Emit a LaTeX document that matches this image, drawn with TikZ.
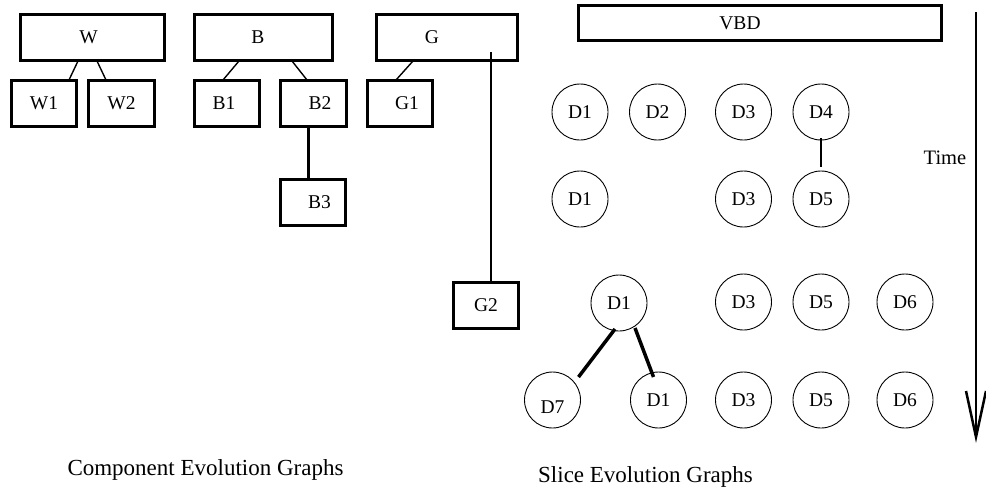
\documentclass[tikz,border=0pt]{standalone}
\usepackage{fontspec}
\setmainfont{Liberation Serif}
\usetikzlibrary{calc}
\begin{document}
\begin{tikzpicture}[x=1pt,y=-1pt,
  lbl/.style={font=\fontsize{19.5}{22}\selectfont},
  cbox/.style={draw, line width=3pt, inner sep=0pt, minimum height=46pt, lbl},
  smallbox/.style={cbox, minimum width=65pt},
  dnode/.style={draw, circle, line width=0.9pt, inner sep=0pt, minimum size=56pt, lbl},
  thinline/.style={line width=1.4pt},
  heavyline/.style={line width=3pt},
  captxt/.style={font=\fontsize{23}{26}\selectfont}
]
\useasboundingbox (0,0) rectangle (986,490);
% component evolution graphs
\node[cbox, minimum width=144pt] (W) at (92.5,37.5) {W\hspace*{8pt}};
\node[smallbox] (W1) at (44,103.5) {W1};
\node[smallbox, minimum width=66pt] (W2) at (121.5,103.5) {W2};
\node[cbox, minimum width=138pt] (B) at (263.5,37.5) {B\hspace*{11pt}};
\node[smallbox] (B1) at (227,103.5) {B1\hspace*{6pt}};
\node[smallbox, minimum width=66pt] (B2) at (313.5,103.5) {\hspace*{13pt}B2};
\node[smallbox] (B3) at (313,202.5) {\hspace*{13pt}B3};
\node[cbox, minimum width=141pt] (G) at (447,37.5) {G\hspace*{30pt}};
\node[smallbox] (G1) at (400,103.5) {\hspace*{14pt}G1};
\node[smallbox] (G2) at (486,305.5) {G2};
\draw[thinline] ($(W.south west)+(59,-1)$) -- ($(W1.north west)+(59,1)$);
\draw[thinline] ($(W.south west)+(78,-1)$) -- ($(W2.north west)+(19,1)$);
\draw[thinline] ($(B.south west)+(46,-1)$) -- ($(B1.north west)+(30,1)$);
\draw[thinline] ($(B.south west)+(99,-1)$) -- ($(B2.north west)+(28,1)$);
\draw[heavyline] ($(B2.south west)+(29,0)$) -- ($(B3.north west)+(29,0)$);
\draw[thinline] ($(G.south west)+(38,-1)$) -- ($(G1.north west)+(30,1)$);
\draw[thinline] ($(G.south west)+(116,-10)$) -- ($(G2.north west)+(39,0)$);
% slice evolution graphs
\node[draw, line width=3pt, inner sep=0pt, minimum width=363pt, minimum height=35pt, lbl] (VBD) at (760,23) {VBD\hspace*{40pt}};
\node[dnode] (a1) at (580,112) {D1};
\node[dnode] (a2) at (657.5,112) {D2};
\node[dnode] (a3) at (743.5,112) {D3};
\node[dnode] (a4) at (821,112) {D4};
\node[dnode] (b1) at (580,199) {D1};
\node[dnode] (b3) at (743.5,199) {D3};
\node[dnode] (b5) at (821,199) {D5};
\node[dnode] (c1) at (619,303) {D1};
\node[dnode] (c3) at (743.5,302) {D3};
\node[dnode] (c5) at (821,302) {D5};
\node[dnode] (c6) at (905,302) {D6};
\node[dnode] (d7) at (552.5,400) {\raisebox{-13pt}[0pt][0pt]{D7}};
\node[dnode] (d1) at (658.5,400) {D1};
\node[dnode] (d3) at (743.5,400) {D3};
\node[dnode] (d5) at (821,400) {D5};
\node[dnode] (d6) at (905,400) {D6};
\draw[thinline] ($(a4.south)+(0,-2)$) -- ($(b5.north)+(0,-4)$);
\draw[line width=3.5pt] ($(c1)+(-4,26)$) -- ($(d7)+(26,-23)$);
\draw[line width=3.5pt] ($(c1)+(16,25)$) -- ($(d1)+(-5,-23)$);
% time arrow
\coordinate (ttop) at (976,12);
\coordinate (tend) at (976,437);
\draw[thinline] (ttop) -- (tend);
\draw[line width=2.5pt, line join=miter] ($(tend)+(-10,-46)$) -- (tend) -- ($(tend)+(10,-46)$);
\node[font=\fontsize{20.5}{23}\selectfont] (time) at (945,158) {Time};
% captions
\node[captxt] (cap1) at (205.5,470) {Component Evolution Graphs};
\node[captxt] (cap2) at (645.5,477) {Slice Evolution Graphs};
\end{tikzpicture}
\end{document}
